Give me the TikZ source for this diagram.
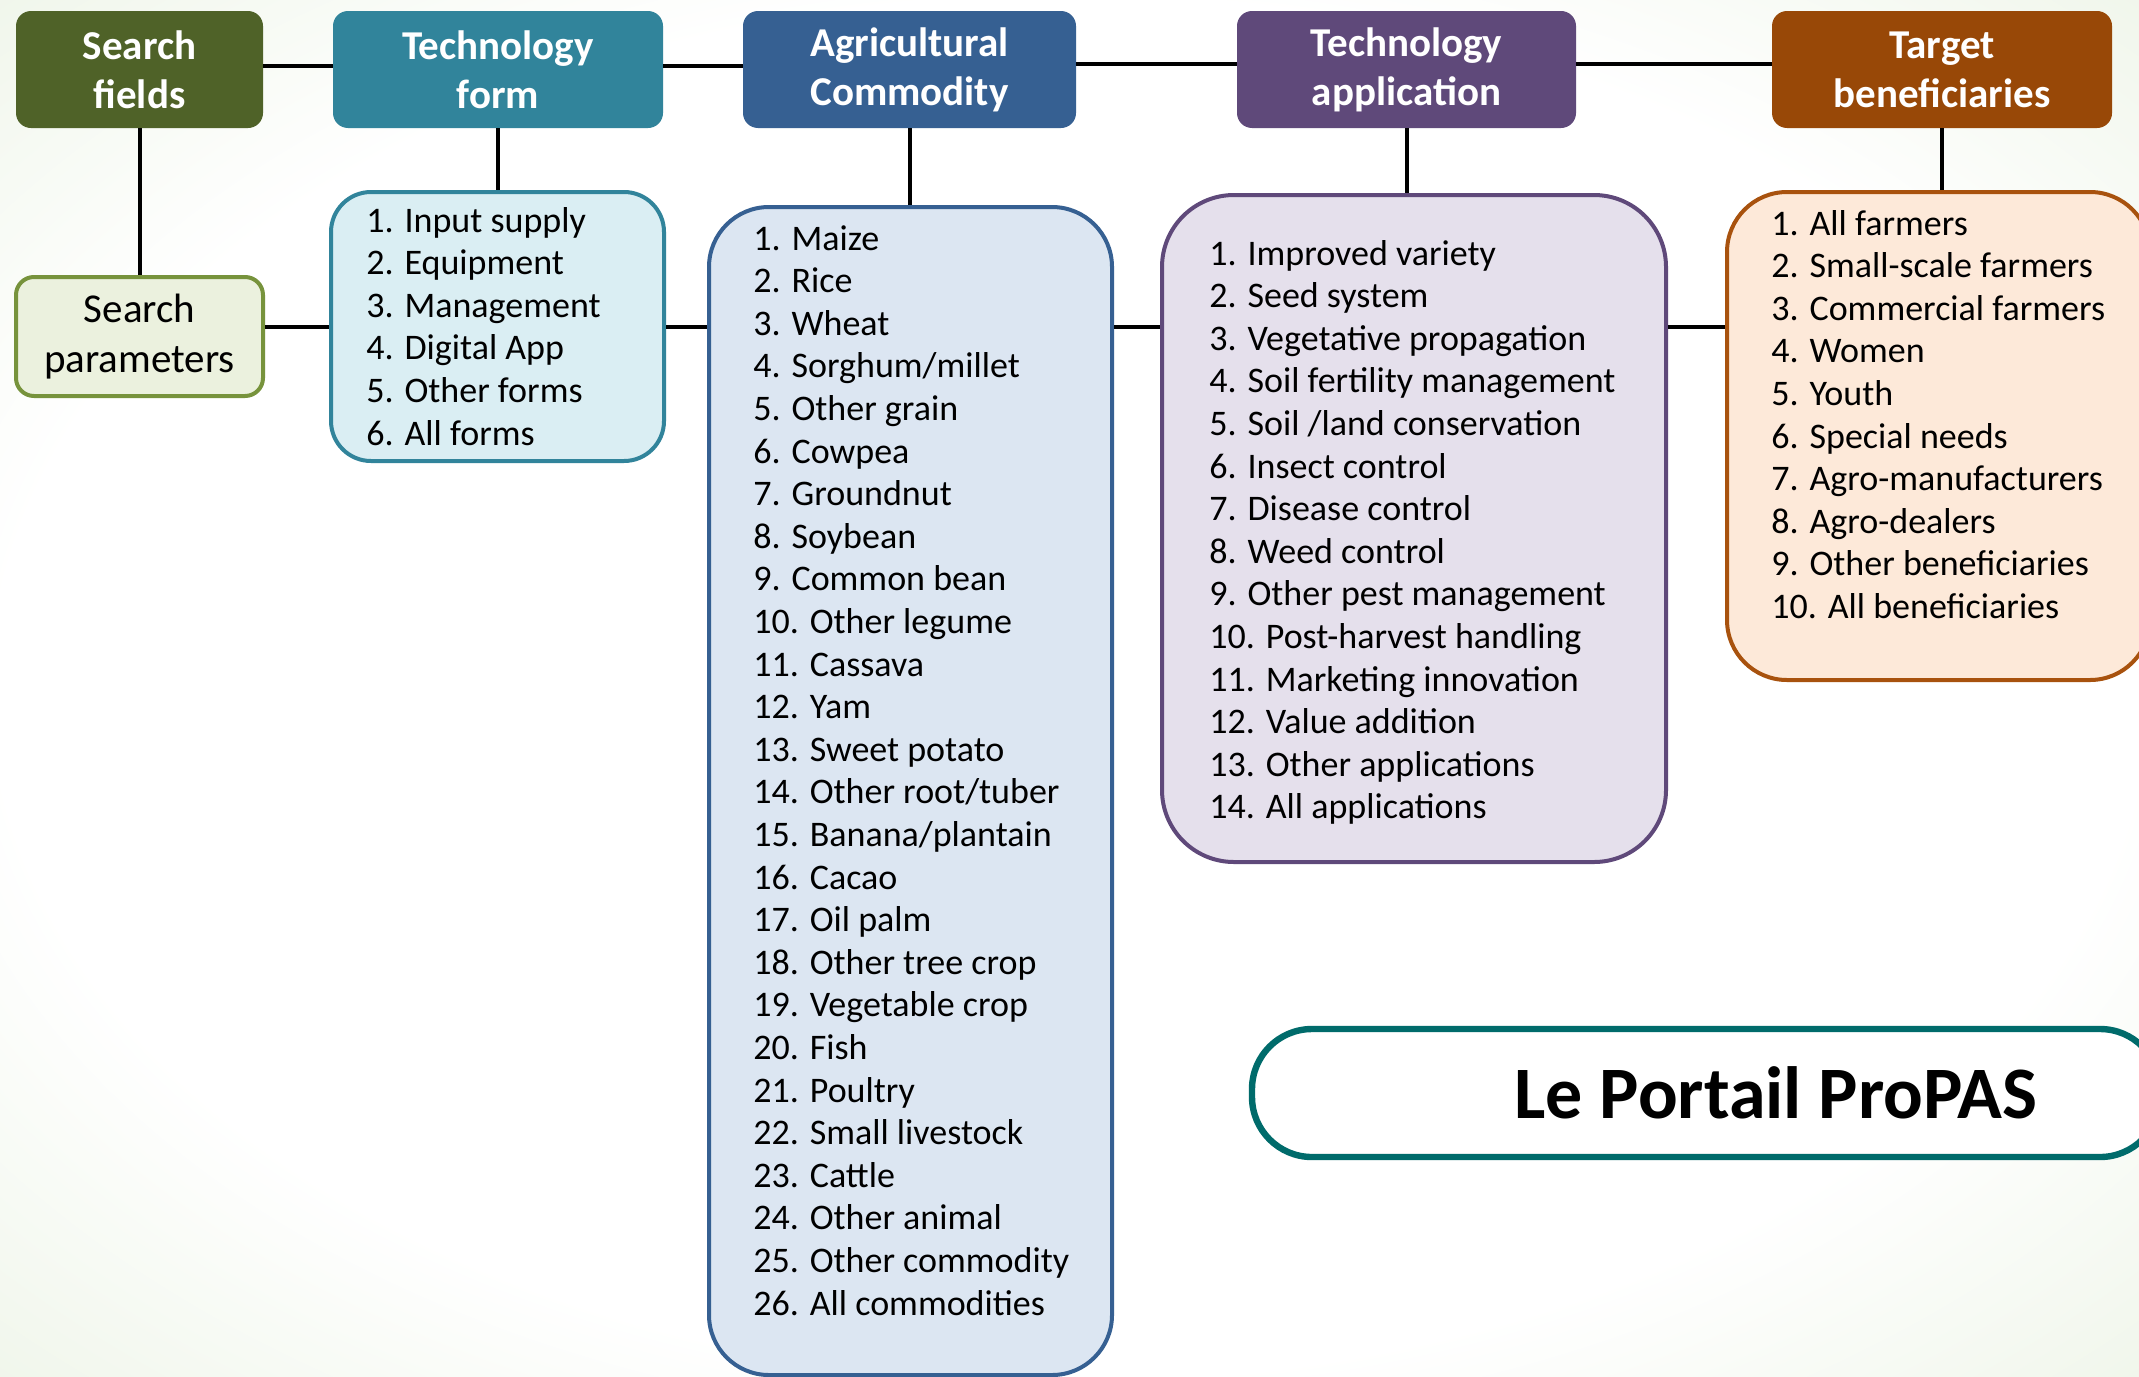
\documentclass[tikz,border=0pt]{standalone}
\usepackage{fontspec}
\setmainfont{Carlito}
\usepackage{tikz}
\usetikzlibrary{positioning}
\definecolor{sfgreen}{HTML}{4F6228}
\definecolor{tfteal}{HTML}{31849B}
\definecolor{acblue}{HTML}{366092}
\definecolor{tapurple}{HTML}{5F497A}
\definecolor{tbbrown}{HTML}{984807}
\definecolor{tbline}{HTML}{A8520E}
\definecolor{spfill}{HTML}{EBF1DE}
\definecolor{spline}{HTML}{77933C}
\definecolor{tffill}{HTML}{DAEEF3}
\definecolor{acfill}{HTML}{DCE6F2}
\definecolor{tafill}{HTML}{E5E0EC}
\definecolor{tbfill}{HTML}{FDE9D9}
\definecolor{portalteal}{HTML}{006B6B}
\definecolor{bgmid}{HTML}{DCEAD0}
\definecolor{bggreen}{HTML}{9AC47C}
\pgfdeclareradialshading{bgshade}{\pgfpoint{0bp}{0bp}}{color(0bp)=(white); color(25bp)=(white); color(50bp)=(bgmid); color(71bp)=(bggreen)}
\tikzset{%
  % Specifications for style of nodes:
  head/.style = {rectangle, rounded corners=7.5pt, inner sep=0pt,
    minimum height=58.5pt, align=center, text=white,
    font=\fontsize{20.5}{24.5}\selectfont\bfseries},
  listbox/.style = {rectangle, line width=2pt, inner sep=0pt},
  item/.style = {anchor=base west, inner sep=0pt,
    font=\fontsize{18}{21}\selectfont},
  link/.style = {line width=2pt, black},
}

\begin{document}
\begin{tikzpicture}[x=0.5pt, y=-0.5pt]
        \useasboundingbox (0,0) rectangle (2139,1376);
        \clip (0,0) rectangle (2139,1376);
        \shade[shading=bgshade] (0,0) rectangle (2139,1376);
        % Specification of nodes (position, etc.)
        \node(sfields)[head, fill=sfgreen, minimum width=123.5pt] at (139.5,69.5) {Search\\fields};
        \node(tform)[head, fill=tfteal, minimum width=165pt] at (498,69.5) {Technology\\form};
        \node(agcom)[head, fill=acblue, minimum width=166.5pt] at (909.5,69.5) {Agricultural\\Commodity};
        \node(tapp)[head, fill=tapurple, minimum width=169.5pt] at (1406.5,69.5) {Technology\\application};
        \node(target)[head, fill=tbbrown, minimum width=170pt] at (1942,69.5) {Target\\beneficiaries};
        \node(sparams)[listbox, draw=spline, fill=spfill, rounded corners=9pt,
          minimum width=123.5pt, minimum height=59.5pt, align=center,
          font=\fontsize{20.5}{25}\selectfont] at (139.5,336.5) {Search\\parameters};
        \node(tflist)[listbox, draw=tfteal, fill=tffill, rounded corners=20pt,
          minimum width=166.5pt, minimum height=134.5pt] at (497.5,326.5) {};
        \node(aglist)[listbox, draw=acblue, fill=acfill, rounded corners=30pt,
          minimum width=201.5pt, minimum height=584pt] at (910.5,791) {};
        \node(taplist)[listbox, draw=tapurple, fill=tafill, rounded corners=36pt,
          minimum width=252pt, minimum height=333.5pt] at (1414,528.5) {};
        \node(tblist)[listbox, draw=tbline, fill=tbfill, rounded corners=30pt,
          minimum width=211.5pt, minimum height=244pt] at (1938.5,436) {};
        \node(portal)[listbox, draw=portalteal, fill=white, line width=3.2pt, rounded corners=30pt,
          minimum width=454pt, minimum height=64pt] at (1706,1093) {};
        \node(portaltxt)[font=\fontsize{37}{44}\selectfont\bfseries] at (1776,1093) {Le Portail ProPAS};
        % list items
        \foreach \t [count=\i] in {Input supply, Equipment, Management, Digital App, Other forms, All forms}
          \node(tf\i)[item] at (366,{232+42.6*(\i-1)}) {\i. \t};
        \foreach \t [count=\i] in {Maize, Rice, Wheat, Sorghum/millet, Other grain, Cowpea, Groundnut,
            Soybean, Common bean, Other legume, Cassava, Yam, Sweet potato, Other root/tuber,
            Banana/plantain, Cacao, Oil palm, Other tree crop, Vegetable crop, Fish, Poultry,
            Small livestock, Cattle, Other animal, Other commodity, All commodities}
          \node(ag\i)[item] at (753,{250+42.6*(\i-1)}) {\i. \t};
        \foreach \t [count=\i] in {Improved variety, Seed system, Vegetative propagation,
            Soil fertility management, Soil /land conservation, Insect control, Disease control,
            Weed control, Other pest management, Post-harvest handling, Marketing innovation,
            Value addition, Other applications, All applications}
          \node(ta\i)[item] at (1209,{265+42.6*(\i-1)}) {\i. \t};
        \foreach \t [count=\i] in {All farmers, Small-scale farmers, Commercial farmers, Women, Youth,
            Special needs, Agro-manufacturers, Agro-dealers, Other beneficiaries, All beneficiaries}
          \node(tb\i)[item] at (1771,{235+42.6*(\i-1)}) {\i. \t};
        % connectors
        \draw[link]([yshift=2pt]sfields.east) -- ([yshift=2pt]tform.west);
        \draw[link]([yshift=2pt]tform.east) -- ([yshift=2pt]agcom.west);
        \draw[link]([yshift=3pt]agcom.east) -- ([yshift=3pt]tapp.west);
        \draw[link]([yshift=3pt]tapp.east) -- ([yshift=3pt]target.west);
        \draw[link](sfields.south) -- (sparams.north);
        \draw[link](tform.south) -- (tform.south |- tflist.north);
        \draw[link](agcom.south) -- (agcom.south |- aglist.north);
        \draw[link](tapp.south) -- (tapp.south |- taplist.north);
        \draw[link](target.south) -- (target.south |- tblist.north);
        \draw[link](sparams.east |- tflist.west) -- (tflist.west);
        \draw[link](tflist.east) -- (aglist.west |- tflist.east);
        \draw[link](aglist.east |- tflist.east) -- (taplist.west |- tflist.east);
        \draw[link](taplist.east |- tflist.east) -- (tblist.west |- tflist.east);
    \end{tikzpicture}
\end{document}
